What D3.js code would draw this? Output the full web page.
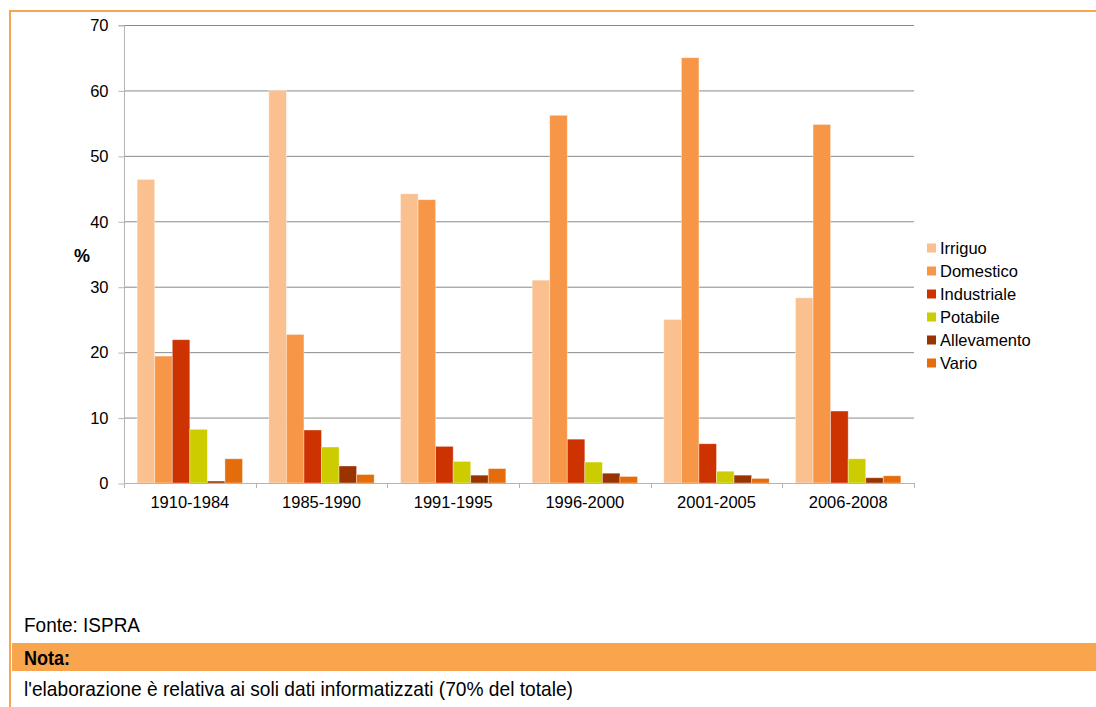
<!DOCTYPE html>
<html><head><meta charset="utf-8">
<script src="https://cdn.jsdelivr.net/npm/d3@7"></script>
<style>
html,body{margin:0;padding:0;background:#fff;}
svg{display:block;font-family:"Liberation Sans",Arial,sans-serif;}
</style></head>
<body>
<svg id="c" width="1096" height="707"></svg>
<script>
const categories = ["1910-1984","1985-1990","1991-1995","1996-2000","2001-2005","2006-2008"];
const seriesNames = ["Irriguo","Domestico","Industriale","Potabile","Allevamento","Vario"];
const seriesColors = ["#fac090","#f79646","#cc3300","#cccc00","#993300","#e46c0a"];
const irriguo     = [46.4, 60.0, 44.2, 31.0, 25.0, 28.3];
const domestico   = [19.4, 22.7, 43.3, 56.2, 65.0, 54.8];
const industriale = [21.9,  8.1,  5.6,  6.7,  6.0, 11.0];
const potabile    = [ 8.2,  5.5,  3.3,  3.2,  1.8,  3.7];
const allevamento = [ 0.3,  2.6,  1.2,  1.5,  1.2,  0.8];
const vario       = [ 3.7,  1.3,  2.2,  1.0,  0.7,  1.1];
const yTicks = [0,10,20,30,40,50,60,70];
const seriesValues = [irriguo, domestico, industriale, potabile, allevamento, vario];

const svg = d3.select("#c");
const orange = "#f8a54d";

// frame
svg.append("rect").attr("x",9).attr("y",10).attr("width",1096-9).attr("height",2).attr("fill",orange);
svg.append("rect").attr("x",9).attr("y",10).attr("width",2).attr("height",707-10).attr("fill",orange);

const pLeft = 124, pRight = 914, pTop = 25, pBottom = 483;
const y = d3.scaleLinear().domain([0,70]).range([pBottom, pTop]);
const x0 = d3.scaleBand().domain(categories).range([pLeft, pRight]).padding(0);
const bw = x0.bandwidth();
const x1 = d3.scaleBand().domain(seriesNames).range([bw*0.1, bw*0.9]).padding(0);

// gridlines
svg.append("g").selectAll("line").data(yTicks.filter(d=>d>0)).join("line")
  .attr("x1",pLeft).attr("x2",pRight).attr("y1",d=>y(d)+0.5).attr("y2",d=>y(d)+0.5)
  .attr("stroke","#8a8a8a").attr("stroke-width",1);

// y axis
const yAxis = d3.axisLeft(y).tickValues(yTicks).tickSize(6).tickPadding(10).tickFormat(d3.format("d"));
const gy = svg.append("g").attr("transform",`translate(${pLeft+0.5},0.5)`).call(yAxis);
gy.select(".domain").attr("stroke","#b4b4b4").attr("d",`M-6,${pTop}H0V${pBottom}`);
gy.selectAll(".tick line").attr("stroke","#b4b4b4");
gy.selectAll(".tick text").attr("font-size",16.5).attr("fill","#000").attr("font-family","Liberation Sans, Arial, sans-serif");

// bars
const groups = svg.append("g").selectAll("g").data(categories).join("g")
  .attr("transform", d=>`translate(${x0(d)},0)`);
groups.selectAll("rect").data((d,i)=>seriesNames.map((s,j)=>({s, v: seriesValues[j][i], c: seriesColors[j]})))
  .join("rect")
  .attr("x", d=>x1(d.s)).attr("width", x1.bandwidth())
  .attr("y", d=>y(d.v)).attr("height", d=>y(0)-y(d.v))
  .attr("fill", d=>d.c)
  .attr("stroke","#ffffff").attr("stroke-opacity",0.45).attr("stroke-width",0.8);

// x axis
const xAxis = d3.axisBottom(x0).tickSize(0).tickPadding(13);
const gx = svg.append("g").attr("transform",`translate(0,${pBottom+0.5})`).call(xAxis);
gx.select(".domain").attr("stroke","#b4b4b4").attr("d",`M${pLeft},0H${pRight}`);
gx.selectAll(".tick text").attr("font-size",16.5).attr("fill","#000").attr("font-family","Liberation Sans, Arial, sans-serif");
// category boundary ticks
const bounds = categories.map(c=>x0(c)).concat([pRight]);
svg.append("g").selectAll("line").data(bounds).join("line")
  .attr("x1",d=>Math.round(d)+0.5).attr("x2",d=>Math.round(d)+0.5)
  .attr("y1",pBottom).attr("y2",pBottom+5).attr("stroke","#b4b4b4");

// y label
svg.append("text").attr("x",82).attr("y",262).attr("text-anchor","middle")
  .attr("font-size",18).attr("font-weight","bold").text("%");

// legend
const lg = svg.append("g").selectAll("g").data(seriesNames).join("g")
  .attr("transform",(d,i)=>`translate(927,${248 + i*23})`);
lg.append("rect").attr("x",0).attr("y",-4.5).attr("width",9).attr("height",9).attr("fill",(d,i)=>seriesColors[i]);
lg.append("text").attr("x",13).attr("y",6).attr("font-size",16.5).attr("fill","#000").text(d=>d);

// footer
svg.append("text").attr("x",24).attr("y",632).attr("font-size",21).attr("textLength",116).attr("lengthAdjust","spacingAndGlyphs").text("Fonte: ISPRA");
svg.append("rect").attr("x",12).attr("y",643).attr("width",1096-12).attr("height",28).attr("fill",orange);
svg.append("text").attr("x",24).attr("y",665).attr("font-size",21).attr("font-weight","bold").attr("textLength",46).attr("lengthAdjust","spacingAndGlyphs").text("Nota:");
svg.append("text").attr("x",24).attr("y",696).attr("font-size",21).attr("textLength",549).attr("lengthAdjust","spacingAndGlyphs").text("l'elaborazione è relativa ai soli dati informatizzati (70% del totale)");
</script>
</body></html>
